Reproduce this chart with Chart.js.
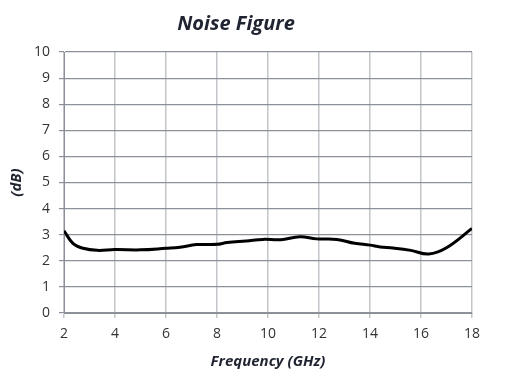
<!DOCTYPE html>
<html>
<head>
<meta charset="utf-8">
<script src="https://cdn.jsdelivr.net/npm/chart.js@4/dist/chart.umd.min.js"></script>
<style>
  html, body { margin: 0; padding: 0; background: #fff; }
  #nf { display: block; }
</style>
</head>
<body>
<canvas id="nf" width="508" height="388"></canvas>
<script>
// valores
var freqGHz = [2, 2.35, 2.75, 3.3, 4, 5, 6, 6.55, 7.2, 8, 8.4, 9.15, 9.8, 10.5, 11.25, 11.9, 12.7, 13.4, 14, 14.4, 14.9, 15.6, 16.3, 17, 18];
var noiseDb = [3.15, 2.67, 2.48, 2.4, 2.43, 2.42, 2.48, 2.52, 2.62, 2.63, 2.7, 2.76, 2.82, 2.81, 2.92, 2.84, 2.82, 2.67, 2.6, 2.53, 2.49, 2.4, 2.26, 2.5, 3.24];
var yTicks = [0, 1, 2, 3, 4, 5, 6, 7, 8, 9, 10];

var puntos = freqGHz.map(function (f, i) { return { x: f, y: noiseDb[i] }; });
var fuente = "'Open Sans', 'DejaVu Sans', sans-serif";

new Chart(document.getElementById('nf').getContext('2d'), {
    type: 'line',
    data: {
        datasets: [{
            data: puntos,
            borderColor: '#000',
            borderWidth: 3,
            pointRadius: 0,
            tension: 0.4,
            fill: false
        }]
    },
    options: {
        responsive: false,
        animation: false,
        layout: { padding: { left: 0, right: 36, top: 0, bottom: 0 } },
        plugins: {
            legend: { display: false },
            tooltip: { enabled: false },
            title: {
                display: true,
                text: 'Noise Figure',
                color: '#1f2430',
                font: { family: fuente, size: 20, weight: 'bold', style: 'italic' },
                padding: { top: 12, bottom: 16 }
            }
        },
        scales: {
            x: {
                type: 'linear',
                min: 2,
                max: 18,
                ticks: { stepSize: 2, color: '#333', padding: 8, font: { family: fuente, size: 14 } },
                grid: { color: '#c4c5ca', lineWidth: 1.5, tickLength: 5 },
                border: { color: '#8c9098' },
                title: {
                    display: true,
                    text: 'Frequency (GHz)',
                    color: '#1f2430',
                    font: { family: fuente, size: 15, weight: 'bold', style: 'italic' },
                    padding: { top: 0, bottom: 17 }
                },
                afterFit: function (s) { s.height = 75; }
            },
            y: {
                min: 0,
                max: 10,
                afterBuildTicks: function (s) { s.ticks = yTicks.map(function (v) { return { value: v }; }); },
                ticks: { color: '#333', padding: 9, font: { family: fuente, size: 14 } },
                grid: { color: '#8c9098', lineWidth: 1.2, tickLength: 5 },
                border: { color: '#8c9098' },
                title: {
                    display: true,
                    text: '(dB)',
                    color: '#1f2430',
                    font: { family: fuente, size: 15, weight: 'bold', style: 'italic' },
                    padding: { top: 8, bottom: 0 }
                },
                afterFit: function (s) { s.width = 64; }
            }
        }
    }
});
</script>
</body>
</html>
